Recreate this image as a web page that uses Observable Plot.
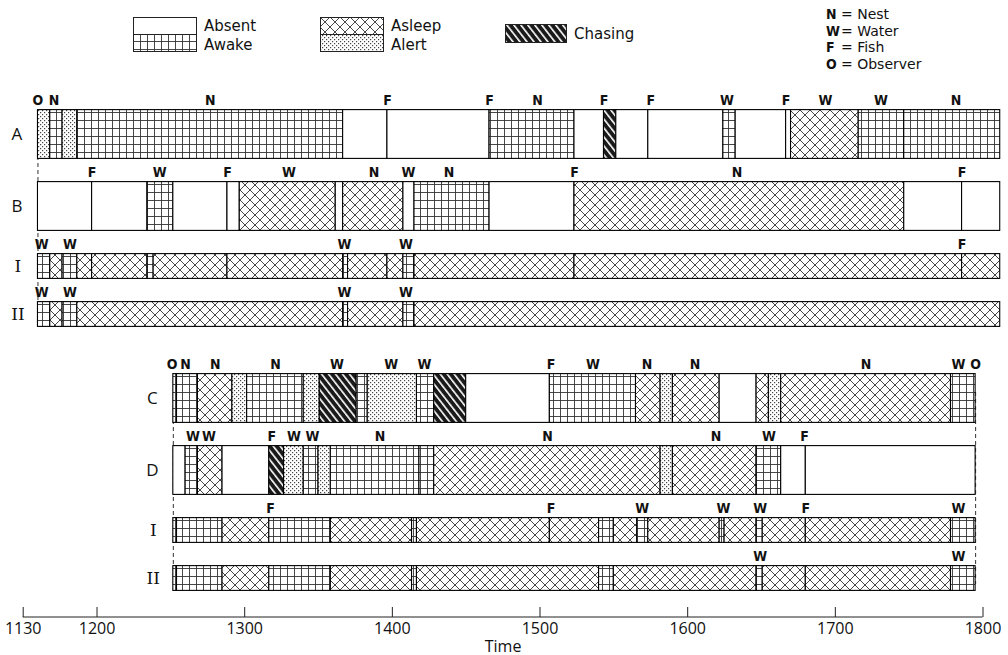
<!DOCTYPE html>
<html><head><meta charset="utf-8">
<script src="https://cdn.jsdelivr.net/npm/d3@7"></script>
<script src="https://cdn.jsdelivr.net/npm/@observablehq/plot@0.6"></script>
<style>
html,body{margin:0;padding:0;background:#fff;}
body{width:1008px;height:655px;overflow:hidden;font-family:"Open Sans","DejaVu Sans",sans-serif;color:#111;}
#legend{position:relative;height:80px;}
#legend .lab{position:absolute;font-family:"DejaVu Sans",sans-serif;font-size:15px;line-height:17px;height:17px;white-space:nowrap;}
#legend .key{font-size:14px;line-height:16px;height:16px;}
#legend svg{position:absolute;overflow:visible;}
#legend .code{font-family:"Liberation Sans Narrow","DejaVu Sans Condensed",sans-serif;font-weight:bold;font-size:14px;display:inline-block;width:15px;line-height:16px;}
#chart svg{display:block;}
</style></head><body>
<svg width="0" height="0" style="position:absolute"><defs>
  <pattern id="p-awake" patternUnits="userSpaceOnUse" width="7" height="8">
    <rect width="7" height="8" fill="#fff"/>
    <path d="M0 0.5H7M0.5 0V8" stroke="#333" stroke-width="0.9" fill="none"/>
  </pattern>
  <pattern id="p-asleep" patternUnits="userSpaceOnUse" width="10" height="10">
    <rect width="10" height="10" fill="#fff"/>
    <path d="M-1 -1L11 11M11 -1L-1 11" stroke="#333" stroke-width="0.9" fill="none"/>
  </pattern>
  <pattern id="p-alert" patternUnits="userSpaceOnUse" width="4" height="4">
    <rect width="4" height="4" fill="#fff"/>
    <rect x="0" y="0" width="1.2" height="1.2" fill="#444"/>
    <rect x="2" y="2" width="1.2" height="1.2" fill="#444"/>
  </pattern>
  <pattern id="p-chasing" patternUnits="userSpaceOnUse" width="5.5" height="6" patternTransform="rotate(-38)">
    <rect width="5.5" height="6" fill="#1a1a1a"/>
    <rect x="0" y="0" width="1.6" height="6" fill="#fff"/>
  </pattern>
</defs></svg>
<div id="legend"></div>
<div id="chart"></div>
<script>
// ---------- data ----------
const stateKeys = ["absent", "awake", "asleep", "alert", "chasing"];
const stateNames = ["Absent", "Awake", "Asleep", "Alert", "Chasing"];
const keyCodes = ["N", "W", "F", "O"];
const keyNames = ["Nest", "Water", "Fish", "Observer"];

const rowKeys = ["A", "B", "I-1", "II-1", "C", "D", "I-2", "II-2"];
const rowNames = ["A", "B", "I", "II", "C", "D", "I", "II"];

const segA = [
  ["alert","11:36","11:41"],["awake","11:41","11:46"],["alert","11:46","11:52"],
  ["awake","11:52","13:40"],["absent","13:40","13:58"],["absent","13:58","14:39.5"],
  ["awake","14:39.5","15:14"],["absent","15:14","15:26"],["chasing","15:26","15:31"],
  ["absent","15:31","15:44"],["absent","15:44","16:14.5"],["awake","16:14.5","16:19.5"],
  ["absent","16:19.5","16:40"],["absent","16:40","16:42"],["asleep","16:42","17:09.5"],
  ["awake","17:09.5","17:28"],["awake","17:28","18:07"]
];
const segB = [
  ["absent","11:36","11:58"],["absent","11:58","12:20.5"],["awake","12:20.5","12:31"],
  ["absent","12:31","12:53"],["absent","12:53","12:58"],["asleep","12:58","13:37"],
  ["absent","13:37","13:40"],["asleep","13:40","14:04.5"],["absent","14:04.5","14:09"],
  ["awake","14:09","14:39.5"],["absent","14:39.5","15:14"],["asleep","15:14","17:28"],
  ["absent","17:28","17:51.5"],["absent","17:51.5","18:07"]
];
const segI1 = [
  ["awake","11:36","11:41"],["asleep","11:41","11:46"],["awake","11:46","11:52"],
  ["asleep","11:52","11:58"],["asleep","11:58","12:20.5"],["awake","12:20.5","12:23"],
  ["asleep","12:23","12:53"],["asleep","12:53","13:40"],["awake","13:40","13:42"],
  ["asleep","13:42","13:58"],["asleep","13:58","14:04.5"],["awake","14:04.5","14:09"],
  ["asleep","14:09","15:14"],["asleep","15:14","17:51.5"],["asleep","17:51.5","18:07"]
];
const segII1 = [
  ["awake","11:36","11:41"],["asleep","11:41","11:46"],["awake","11:46","11:52"],
  ["asleep","11:52","13:40"],["awake","13:40","13:42"],["asleep","13:42","14:04.5"],
  ["awake","14:04.5","14:09"],["asleep","14:09","18:07"]
];
const segC = [
  ["awake","12:31","12:32.5"],["awake","12:32.5","12:41"],["asleep","12:41","12:55"],
  ["alert","12:55","13:01"],["awake","13:01","13:24"],["alert","13:24","13:30.5"],
  ["chasing","13:30.5","13:45.5"],["awake","13:45.5","13:50"],["alert","13:50","14:10"],
  ["awake","14:10","14:17"],["chasing","14:17","14:30"],["absent","14:30","15:04"],
  ["awake","15:04","15:39"],["asleep","15:39","15:49"],["alert","15:49","15:54"],
  ["asleep","15:54","16:13"],["absent","16:13","16:28"],["asleep","16:28","16:33"],
  ["alert","16:33","16:38"],["asleep","16:38","17:47"],["awake","17:47","17:57"]
];
const segD = [
  ["absent","12:31","12:36"],["awake","12:36","12:41"],["asleep","12:41","12:51"],
  ["absent","12:51","13:10"],["chasing","13:10","13:16"],["alert","13:16","13:24"],
  ["awake","13:24","13:30"],["alert","13:30","13:35"],["awake","13:35","14:11"],
  ["awake","14:11","14:17"],["asleep","14:17","15:49"],["alert","15:49","15:54"],
  ["asleep","15:54","16:28"],["awake","16:28","16:38"],["absent","16:38","16:48"],
  ["absent","16:48","17:57"]
];
const segI2 = [
  ["awake","12:31","12:32.5"],["awake","12:32.5","12:51"],["asleep","12:51","13:10"],
  ["awake","13:10","13:35"],["asleep","13:35","14:08"],["awake","14:08","14:10"],
  ["asleep","14:10","15:04"],["asleep","15:04","15:24"],["awake","15:24","15:30"],
  ["asleep","15:30","15:39.5"],["awake","15:39.5","15:44"],["asleep","15:44","16:13"],
  ["awake","16:13","16:15"],["asleep","16:15","16:28"],["awake","16:28","16:30.5"],
  ["asleep","16:30.5","16:48"],["asleep","16:48","17:47"],["awake","17:47","17:57"]
];
const segII2 = [
  ["awake","12:31","12:32.5"],["awake","12:32.5","12:51"],["asleep","12:51","13:10"],
  ["awake","13:10","13:35"],["asleep","13:35","14:08"],["awake","14:08","14:10"],
  ["asleep","14:10","15:24"],["awake","15:24","15:30"],["asleep","15:30","16:28"],
  ["awake","16:28","16:30.5"],["asleep","16:30.5","16:48"],["asleep","16:48","17:47"],
  ["awake","17:47","17:57"]
];

const evA = [["O","11:36"],["N","11:42.5"],["N","12:46"],["F","13:58"],["F","14:39.5"],["N","14:59"],
  ["F","15:26"],["F","15:45"],["W","16:16"],["F","16:40"],["W","16:56"],["W","17:18.5"],["N","17:49"]];
const evB = [["F","11:58"],["W","12:25.5"],["F","12:53"],["W","13:18"],["N","13:52.5"],["W","14:06.5"],
  ["N","14:23"],["F","15:14"],["N","16:20"],["F","17:51.5"]];
const evI1 = [["W","11:37.5"],["W","11:49"],["W","13:40.5"],["W","14:05.5"],["F","17:51.5"]];
const evII1 = [["W","11:37.5"],["W","11:49"],["W","13:40.5"],["W","14:05.5"]];
const evC = [["O","12:30.5"],["N","12:36"],["N","12:48"],["N","13:12.5"],["W","13:37.5"],["W","13:59.5"],
  ["W","14:13"],["F","15:04.5"],["W","15:21.5"],["N","15:43.5"],["N","16:03"],["N","17:12.5"],
  ["W","17:50"],["O","17:57"]];
const evD = [["W","12:39"],["W","12:45.5"],["F","13:11"],["W","13:20"],["W","13:27.5"],["N","13:55"],
  ["N","15:03"],["N","16:11.5"],["W","16:33"],["F","16:47.5"]];
const evI2 = [["F","13:10.5"],["F","15:04.5"],["W","15:41.5"],["W","16:14.5"],["W","16:29.5"],
  ["F","16:48"],["W","17:50"]];
const evII2 = [["W","16:29.5"],["W","17:50"]];

const axisTicks = ["11:30","12:00","13:00","14:00","15:00","16:00","17:00","18:00"];

// ---------- build tables ----------
const segLists = [segA, segB, segI1, segII1, segC, segD, segI2, segII2];
const evLists = [evA, evB, evI1, evII1, evC, evD, evI2, evII2];
const toMin = s => { const [h, m] = s.split(":"); return +h * 60 + +m; };
const fmtClock = m => `${Math.floor(m / 60)}${String(Math.round(m % 60)).padStart(2, "0")}`;
const isThin = k => k.startsWith("I");
const fills = {absent: "#fff", awake: "url(#p-awake)", asleep: "url(#p-asleep)", alert: "url(#p-alert)", chasing: "url(#p-chasing)"};

const segs = [];
segLists.forEach((list, i) => list.forEach(([s, a, b]) =>
  segs.push({row: rowKeys[i], state: s, x1: toMin(a), x2: toMin(b), thin: isThin(rowKeys[i])})));
const events = [];
evLists.forEach((list, i) => list.forEach(([c, t]) =>
  events.push({row: rowKeys[i], code: c, x: toMin(t), thin: isThin(rowKeys[i])})));
const rowStart = k => d3.min(segs.filter(d => d.row === k), d => d.x1);
const rowEnd = k => d3.max(segs.filter(d => d.row === k), d => d.x2);
const rowLabels = rowKeys.map((k, i) => ({row: k, name: rowNames[i], x: rowStart(k), roman: isThin(k)}));
const observerLines = [
  {x: rowStart("A"), from: "A", to: "II-1"},
  {x: rowStart("C"), from: "C", to: "II-2"},
  {x: rowEnd("C"), from: "C", to: "II-2"}
];
const tickMins = axisTicks.map(toMin);

// ---------- layout ----------
const W = 1008, H = 575, MB = 38;
const slotGaps = [0, 6, 5, 4, 7, 6, 5, 4];
const yDomain = [];
rowKeys.forEach((k, i) => { for (let j = 1; j < slotGaps[i]; j++) yDomain.push(`gap${i}-${j}`); yDomain.push(k); });
const thickInset = -18.4, thinInset = -6.4;
const codeFont = '"Liberation Sans Narrow","DejaVu Sans Condensed",sans-serif';

const chart = Plot.plot({
  width: W, height: H,
  marginLeft: 22.7, marginRight: 25.5, marginTop: 0, marginBottom: MB,
  style: {background: "#fff", fontFamily: '"Open Sans","DejaVu Sans",sans-serif', overflow: "visible", color: "#111"},
  x: {domain: [toMin("11:30"), toMin("18:00")]},
  y: {type: "band", domain: yDomain, range: [43.4, 507.6], padding: 0, axis: null},
  color: {type: "identity"},
  marks: [
    Plot.ruleX(observerLines, {x: "x", y1: "from", y2: "to", stroke: "#333", strokeWidth: 1, strokeDasharray: "4,3"}),
    Plot.barX(segs.filter(d => !d.thin), {x1: "x1", x2: "x2", y: "row", fill: d => fills[d.state], stroke: "#000", strokeWidth: 1.1, insetTop: thickInset, insetBottom: thickInset}),
    Plot.barX(segs.filter(d => d.thin), {x1: "x1", x2: "x2", y: "row", fill: d => fills[d.state], stroke: "#000", strokeWidth: 1.1, insetTop: thinInset, insetBottom: thinInset}),
    Plot.text(events.filter(d => !d.thin), {x: "x", y: "row", text: "code", dy: -33.5, fontFamily: codeFont, fontWeight: "bold", fontSize: 14, fill: "#111"}),
    Plot.text(events.filter(d => d.thin), {x: "x", y: "row", text: "code", dy: -22, fontFamily: codeFont, fontWeight: "bold", fontSize: 14, fill: "#111"}),
    Plot.text(rowLabels.filter(d => !d.roman), {x: "x", y: "row", text: "name", dx: -21, fontSize: 17, fill: "#111"}),
    Plot.text(rowLabels.filter(d => d.roman), {x: "x", y: "row", text: "name", dx: -20, fontSize: 17, fontFamily: '"DejaVu Serif","Liberation Serif",serif', fill: "#111"}),
    Plot.ruleX(tickMins, {x: d => d, insetTop: H - MB - 10, stroke: "#222"}),
    Plot.axisX(tickMins, {tickFormat: fmtClock, tickSize: 0, tickPadding: 5, fontSize: 16, label: "Time", labelAnchor: "center", labelOffset: 34, labelArrow: "none"})
  ]
});
// axis baseline through the x scale
const xs = chart.scale("x");
d3.select(chart).append("line")
  .attr("x1", xs.apply(toMin("11:30"))).attr("x2", xs.apply(toMin("18:00")))
  .attr("y1", H - MB).attr("y2", H - MB).attr("stroke", "#222").attr("stroke-width", 1);
document.getElementById("chart").appendChild(chart);

// ---------- legend ----------
const lg = document.getElementById("legend");
function swatchPair(left, i0, i1) {
  const s = d3.create("svg").attr("width", 64).attr("height", 35).style("left", left + "px").style("top", "17px");
  s.append("rect").attr("x", 0.5).attr("y", 0.5).attr("width", 63).attr("height", 17).attr("fill", fills[stateKeys[i0]]).attr("stroke", "#222");
  s.append("rect").attr("x", 0.5).attr("y", 17.5).attr("width", 63).attr("height", 17).attr("fill", fills[stateKeys[i1]]).attr("stroke", "#222");
  lg.appendChild(s.node());
  [i0, i1].forEach((si, j) => {
    const t = document.createElement("div"); t.className = "lab"; t.textContent = stateNames[si];
    t.style.left = (left + 71) + "px"; t.style.top = (18 + j * 19) + "px"; lg.appendChild(t);
  });
}
swatchPair(133, 0, 1);
swatchPair(320, 2, 3);
{
  const s = d3.create("svg").attr("width", 62).attr("height", 19).style("left", "505px").style("top", "24px");
  s.append("rect").attr("x", 0.5).attr("y", 0.5).attr("width", 61).attr("height", 18).attr("fill", fills.chasing).attr("stroke", "#222");
  lg.appendChild(s.node());
  const t = document.createElement("div"); t.className = "lab"; t.textContent = stateNames[4];
  t.style.left = "574px"; t.style.top = "26px"; lg.appendChild(t);
}
keyCodes.forEach((c, i) => {
  const t = document.createElement("div"); t.className = "lab key";
  t.innerHTML = `<span class="code">${c}</span>= ${keyNames[i]}`;
  t.style.left = "826px"; t.style.top = (6 + i * 16.5) + "px"; lg.appendChild(t);
});
</script>
</body></html>
